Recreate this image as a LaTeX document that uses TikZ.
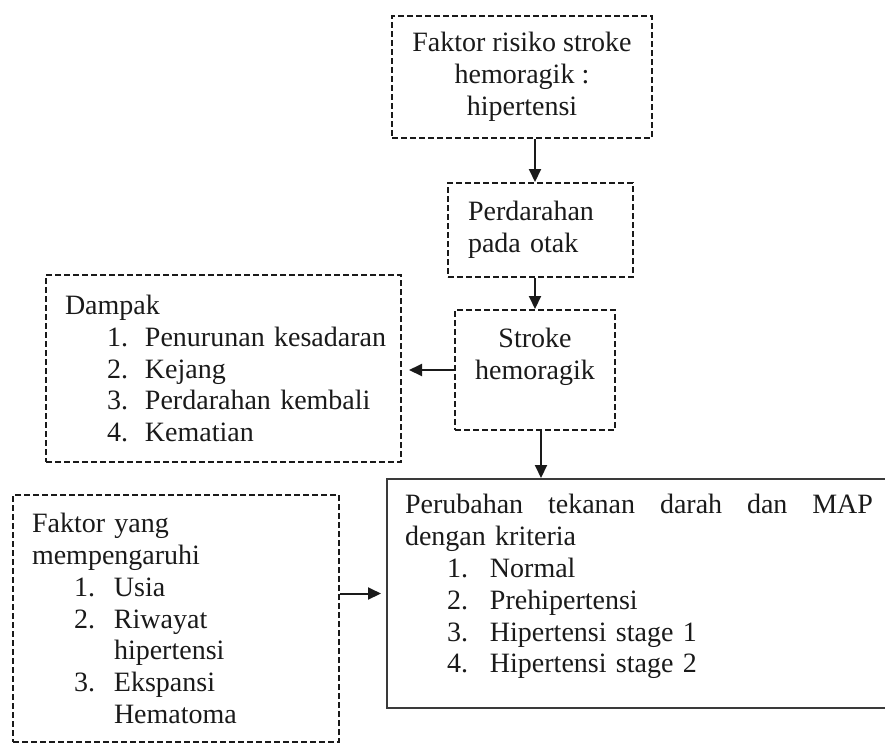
\documentclass[tikz,border=0pt]{standalone}
\usepackage{fontspec}
\setmainfont{Liberation Serif}
\usetikzlibrary{arrows.meta}
\definecolor{ink}{HTML}{1A1A1A}
\definecolor{frame}{HTML}{3A3A3A}
% numbered line of a list, and its second line
\newcommand{\numitem}[3][40pt]{\hspace*{42pt}\makebox[#1][l]{#2}\mbox{#3}}
\newcommand{\numcont}[2][40pt]{\hspace*{\dimexpr42pt+#1\relax}\mbox{#2}}
\begin{document}
\begin{tikzpicture}[x=1pt,y=-1pt,line width=2pt,draw=ink,>={Triangle[length=13pt,width=12pt]},
    every node/.style={font=\fontsize{28}{31.8}\selectfont,text=ink},
    dashbox/.style={draw=ink,dash pattern=on 6pt off 3pt},
    solidbox/.style={draw=frame}]
    \useasboundingbox[fill=white] (0,0) rectangle (885,742);
	\node (1) [dashbox,minimum width=260pt,minimum height=122pt,align=center] at (522,77) {Faktor risiko stroke\\hemoragik :\\hipertensi};
	\node (2) [dashbox,text width=145pt,inner xsep=20pt,minimum height=94pt,align=left] at (540.5,230) {Perdarahan\\pada otak};
	\node (3) [dashbox,minimum width=160pt,minimum height=120pt,align=center] at (535,370) {Stroke\\hemoragik\\\mbox{}};
	\node (4) [dashbox,text width=317pt,inner xsep=19pt,minimum height=187pt,align=left] at (223.5,368.5) {Dampak\\
        \numitem[38pt]{1.}{Penurunan kesadaran}\\
        \numitem[38pt]{2.}{Kejang}\\
        \numitem[38pt]{3.}{Perdarahan kembali}\\
        \numitem[38pt]{4.}{Kematian}};
	\node (5) [dashbox,text width=288pt,inner xsep=19pt,minimum height=247pt,align=left] at (176,618.5) {Faktor yang\\mempengaruhi\\
        \numitem{1.}{Usia}\\
        \numitem{2.}{Riwayat}\\
        \numcont{hipertensi}\\
        \numitem{3.}{Ekspansi}\\
        \numcont{Hematoma}};
	\node (6) [solidbox,text width=468pt,inner xsep=18pt,minimum height=229pt,align=left] at (639,593.5) {\makebox[468pt][l]{Perubahan\hfill tekanan\hfill darah\hfill dan\hfill MAP}\\dengan kriteria\\
        \numitem[43pt]{1.}{Normal}\\
        \numitem[43pt]{2.}{Prehipertensi}\\
        \numitem[43pt]{3.}{Hipertensi stage 1}\\
        \numitem[43pt]{4.}{Hipertensi stage 2}\\[-12pt]\mbox{}};
    \coordinate (7) at ([xshift=6pt]3.south);
    \path[->]
        (1.south -| 3) edge (2.north -| 3)
        (2.south -| 3) edge (3.north)
        (3.west) edge[shorten >=7pt] (3.west -| 4.east)
        (7) edge (7 |- 6.north)
        (5.east |- 6) edge[shorten >=5pt] (6.west);
\end{tikzpicture}
\end{document}
